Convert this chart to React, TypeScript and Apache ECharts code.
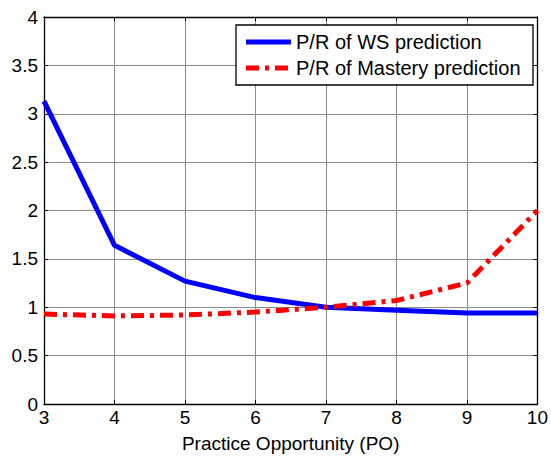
import React, { useEffect, useRef } from "react";
import * as echarts from "echarts";

const practiceOpportunity = [3, 4, 5, 6, 7, 8, 9, 10];
const wsPrediction = [3.13, 1.64, 1.27, 1.1, 1.0, 0.97, 0.94, 0.94];
const masteryPrediction = [0.93, 0.91, 0.92, 0.95, 1.0, 1.07, 1.25, 2.0];
const seriesNames = ["P/R of WS prediction", "P/R of Mastery prediction"];
const xAxisTitle = "Practice Opportunity (PO)";

const FONT = "'Liberation Sans', Arial, sans-serif";

export default function App() {
  const ref = useRef<HTMLDivElement>(null);
  useEffect(() => {
    if (!ref.current) return;
    const chart = echarts.init(ref.current, null, { renderer: "svg" });
    const tickStyle = { show: true, inside: true, length: 4, lineStyle: { color: "#000", width: 1 } };
    const axisLine = { show: true, onZero: false, lineStyle: { color: "#000", width: 1.3 } };
    const gridLine = { show: true, lineStyle: { color: "#8a8a8a", width: 1, type: "solid" as const } };
    const lx = 236, ly = 25, lw = 297, lh = 60;
    chart.setOption({
      animation: false,
      backgroundColor: "#fff",
      grid: { left: 44, right: 10, top: 17, bottom: 52, containLabel: false },
      xAxis: [
        {
          type: "value",
          min: 3,
          max: 10,
          interval: 1,
          position: "bottom",
          name: xAxisTitle,
          nameLocation: "middle",
          nameGap: 30,
          nameTextStyle: { fontFamily: FONT, fontSize: 19, color: "#000" },
          axisLine,
          axisTick: tickStyle,
          axisLabel: { fontFamily: FONT, fontSize: 19, color: "#000", margin: 4 },
          splitLine: gridLine,
        },
        {
          type: "value",
          min: 3,
          max: 10,
          interval: 1,
          position: "top",
          axisLine,
          axisTick: tickStyle,
          axisLabel: { show: false },
          splitLine: { show: false },
        },
      ],
      yAxis: [
        {
          type: "value",
          min: 0,
          max: 4,
          interval: 0.5,
          position: "left",
          axisLine,
          axisTick: tickStyle,
          axisLabel: { fontFamily: FONT, fontSize: 19, color: "#000", margin: 6 },
          splitLine: gridLine,
        },
        {
          type: "value",
          min: 0,
          max: 4,
          interval: 0.5,
          position: "right",
          axisLine,
          axisTick: tickStyle,
          axisLabel: { show: false },
          splitLine: { show: false },
        },
      ],
      series: [
        {
          name: seriesNames[0],
          type: "line",
          data: practiceOpportunity.map((x, i) => [x, wsPrediction[i]]),
          showSymbol: false,
          lineStyle: { color: "#0000ff", width: 5 },
          itemStyle: { color: "#0000ff" },
          z: 3,
        },
        {
          name: seriesNames[1],
          type: "line",
          data: practiceOpportunity.map((x, i) => [x, masteryPrediction[i]]),
          showSymbol: false,
          lineStyle: { color: "#ff0000", width: 5, type: [13, 6, 4, 6] },
          itemStyle: { color: "#ff0000" },
          z: 4,
        },
      ],
      graphic: [
        {
          type: "rect",
          shape: { x: lx, y: ly, width: lw, height: lh },
          style: { fill: "#fff", stroke: "#000", lineWidth: 1.3 },
          z: 10,
        },
        {
          type: "line",
          shape: { x1: lx + 10, y1: ly + 17, x2: lx + 55, y2: ly + 17 },
          style: { stroke: "#0000ff", lineWidth: 5 },
          z: 11,
        },
        {
          type: "line",
          shape: { x1: lx + 10, y1: ly + 43, x2: lx + 55, y2: ly + 43 },
          style: { stroke: "#ff0000", lineWidth: 5, lineDash: [13, 6, 4, 6] },
          z: 11,
        },
        {
          type: "text",
          x: lx + 60,
          y: ly + 17,
          style: { text: seriesNames[0], fontFamily: FONT, fontSize: 20, fill: "#000", verticalAlign: "middle" },
          z: 11,
        },
        {
          type: "text",
          x: lx + 60,
          y: ly + 43,
          style: { text: seriesNames[1], fontFamily: FONT, fontSize: 20, fill: "#000", verticalAlign: "middle" },
          z: 11,
        },
      ],
    });
    return () => chart.dispose();
  }, []);
  return <div ref={ref} style={{ width: 551, height: 458, position: "absolute", left: 0, top: 0 }} />;
}
